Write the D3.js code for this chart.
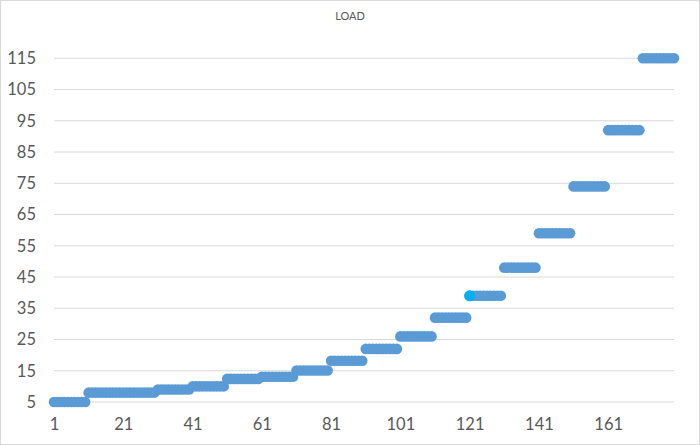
<!DOCTYPE html>
<html><head><meta charset="utf-8">
<script src="https://cdn.jsdelivr.net/npm/d3@7"></script>
<style>html,body{margin:0;padding:0;background:#fff;}svg{display:block;font-family:Lato,"Open Sans",sans-serif;}</style>
</head><body>
<script>
// Data: 180 points, grouped in runs of 10 with the same LOAD value
const groupValues = [5, 8, 8, 9, 10, 12.4, 13.1, 15.1, 18.2, 22, 26, 32, 39, 48, 59, 74, 92, 115];
const groupSize = 10;
const xTickLabels = [1, 21, 41, 61, 81, 101, 121, 141, 161];
const yTickLabels = [5, 15, 25, 35, 45, 55, 65, 75, 85, 95, 105, 115];
const highlightIndex = 121;
const title = "LOAD";

const points = [];
groupValues.forEach((v, g) => {
  for (let i = 0; i < groupSize; i++) points.push({x: g * groupSize + i + 1, y: v});
});

const W = 700, H = 445;
const svg = d3.select("body").append("svg").attr("width", W).attr("height", H);
svg.append("rect").attr("x", 0.5).attr("y", 0.5).attr("width", W - 1).attr("height", H - 1)
  .attr("fill", "#fff").attr("stroke", "#D9D9D9");

const x = d3.scalePoint().domain(points.map(d => d.x)).range([54, 674]);
const y = d3.scaleLinear().domain([5, 115]).range([402, 58.3]);

// gridlines
svg.append("g").selectAll("line").data(yTickLabels).join("line")
  .attr("x1", 54).attr("x2", 674)
  .attr("y1", d => y(d)).attr("y2", d => y(d))
  .attr("stroke", "#D9D9D9").attr("stroke-width", 1);

// y axis labels
const yAxis = d3.axisLeft(y).tickValues(yTickLabels).tickSize(0).tickPadding(0);
const gy = svg.append("g").attr("transform", "translate(36,0)").call(yAxis);
gy.select(".domain").remove();
gy.selectAll("text").attr("fill", "#595959").style("font-size", "16.5px").style("font-family", "Lato");

// x axis labels
const xAxis = d3.axisBottom(x).tickValues(xTickLabels).tickSize(0).tickPadding(0);
const gx = svg.append("g").attr("transform", "translate(0,418)").call(xAxis);
gx.select(".domain").remove();
gx.selectAll("text").attr("fill", "#595959").style("font-size", "16.5px").style("font-family", "Lato");

// markers
svg.append("g").selectAll("circle").data(points).join("circle")
  .attr("cx", d => x(d.x)).attr("cy", d => y(d.y)).attr("r", 5.3)
  .attr("fill", "#5B9BD5");

const hp = points.find(d => d.x === highlightIndex);
svg.append("circle").attr("cx", x(hp.x)).attr("cy", y(hp.y)).attr("r", 5.5).attr("fill", "#00B0F0");
svg.append("circle").attr("cx", x(hp.x)).attr("cy", y(hp.y)).attr("r", 0.8).attr("fill", "#5B9BD5");

svg.append("text").attr("x", 350).attr("y", 20).attr("text-anchor", "middle")
  .attr("fill", "#595959").style("font-size", "11px").style("font-family", "Lato").text(title);
</script>
</body></html>
